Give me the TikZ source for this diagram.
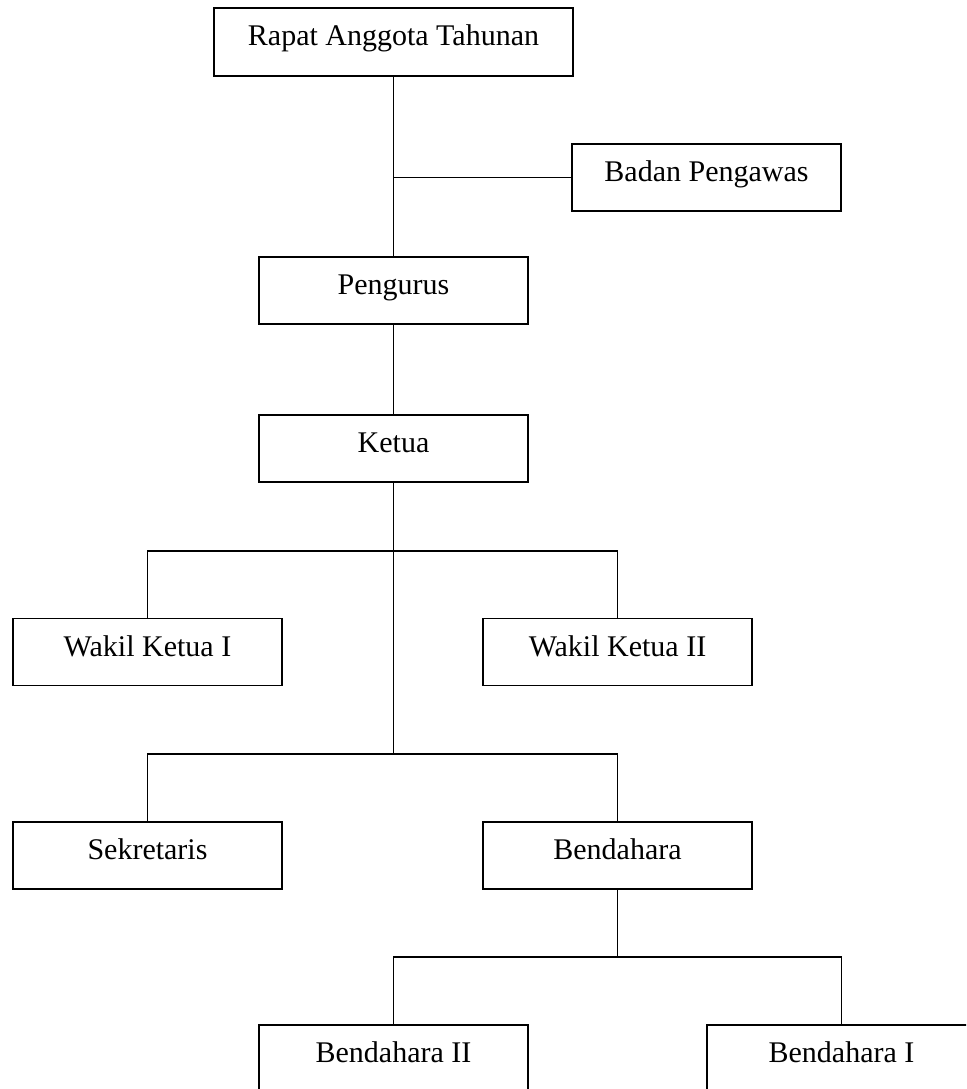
\documentclass[tikz,border=0pt]{standalone}
\usepackage{fontspec}
\setmainfont{Liberation Serif}
\begin{document}
\begin{tikzpicture}[x=1pt,y=-1pt,
  orgbox/.style={draw=black, line width=1.8pt, rectangle, inner sep=0pt,
    minimum width=269pt, minimum height=67pt,
    font=\fontsize{30}{36}\selectfont, text height=20pt, text depth=12pt},
  link/.style={draw=black, line width=1.8pt}]
\clip (0,0) rectangle (966,1089);
\node[orgbox, minimum width=359pt, minimum height=68pt] (rapat) at (393.5,42) {Rapat Anggota Tahunan};
\node[orgbox] (badan) at (706.5,177.5) {Badan Pengawas};
\node[orgbox] (pengurus) at (393.5,290.5) {Pengurus};
\node[orgbox] (ketua) at (393.5,448.5) {Ketua};
\node[orgbox] (wakil1) at (147.5,652) {Wakil Ketua I};
\node[orgbox] (wakil2) at (617.5,652) {Wakil Ketua II};
\node[orgbox] (sekretaris) at (147.5,855.5) {Sekretaris};
\node[orgbox] (bendahara) at (617.5,855.5) {Bendahara};
\node[orgbox] (bend2) at (393.5,1058.5) {Bendahara II};
\node[orgbox] (bend1) at (841.5,1058.5) {Bendahara I};
\coordinate (j1) at (393.5,551);
\coordinate (j2) at (393.5,754);
\coordinate (j3) at (617.5,957);
\path[link] (rapat.south) -- (pengurus.north);
\path[link] (badan.west) -- (rapat.south |- badan.west);
\path[link] (pengurus.south) -- (ketua.north);
\path[link] (ketua.south) -- (j2);
\path[link] (wakil1.north) -- (wakil1.north |- j1) -- (wakil2.north |- j1) -- (wakil2.north);
\path[link] (sekretaris.north) -- (sekretaris.north |- j2) -- (bendahara.north |- j2) -- (bendahara.north);
\path[link] (bendahara.south) -- (j3);
\path[link] (bend2.north) -- (bend2.north |- j3) -- (bend1.north |- j3) -- (bend1.north);
\end{tikzpicture}
\end{document}
